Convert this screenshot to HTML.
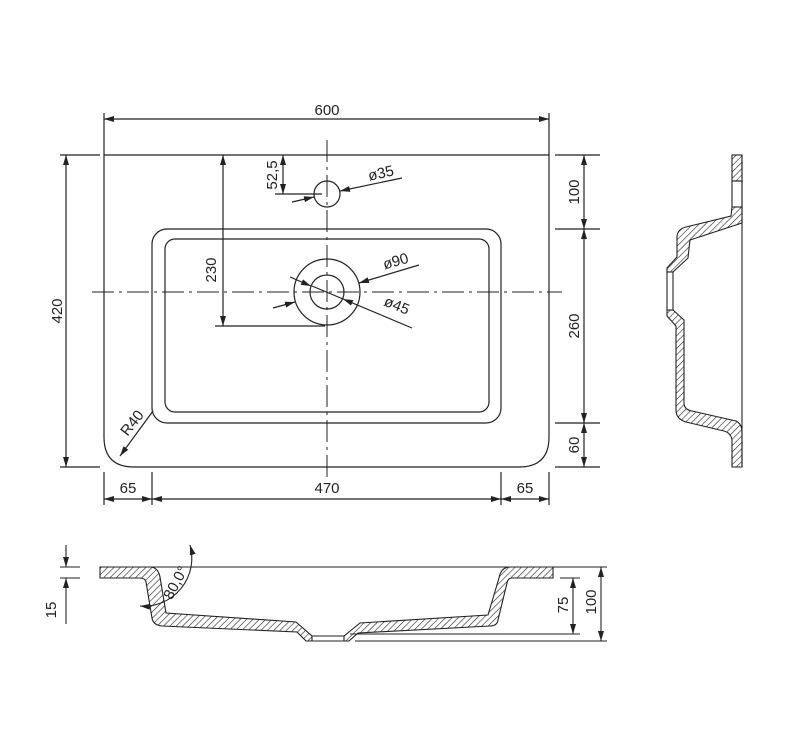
<!DOCTYPE html>
<html><head><meta charset="utf-8"><style>
html,body{margin:0;padding:0;background:#fff}
svg{display:block}
text{font-family:"Liberation Sans",sans-serif;font-size:15px;fill:#222}
</style></head><body>
<svg width="789" height="739" viewBox="0 0 789 739" xmlns="http://www.w3.org/2000/svg">
<defs>
<marker id="a" viewBox="0 0 10 6" refX="10" refY="3" markerWidth="10" markerHeight="6" orient="auto-start-reverse" markerUnits="userSpaceOnUse"><path d="M0,0 L10,3 L0,6 Z" fill="#222"/></marker>
<pattern id="h" width="4.5" height="4.5" patternUnits="userSpaceOnUse" patternTransform="rotate(45)"><line x1="0" y1="0" x2="0" y2="4.5" stroke="#222" stroke-width="1.2"/></pattern>
</defs>
<g stroke="#222" stroke-width="1.2" fill="none">
<path d="M104,155 L549,155 L549,437 Q549,467 519,467 L134,467 Q104,467 104,437 Z"/>
<rect x="152" y="229" width="349" height="194" rx="15"/>
<rect x="165" y="239" width="324" height="173" rx="10"/>
<circle cx="327" cy="194" r="13"/>
<circle cx="327" cy="292" r="33"/>
<circle cx="327" cy="292" r="17"/>
<g stroke-width="1" stroke-dasharray="22,5,3,5">
<line x1="92" y1="292" x2="562" y2="292"/>
<line x1="327" y1="140" x2="327" y2="482"/>
</g>
<line x1="104" y1="113" x2="104" y2="155"/><line x1="549" y1="113" x2="549" y2="155"/>
<line x1="104" y1="119" x2="549" y2="119" marker-start="url(#a)" marker-end="url(#a)"/>
<line x1="60" y1="155" x2="100" y2="155"/><line x1="60" y1="467" x2="100" y2="467"/>
<line x1="66" y1="155" x2="66" y2="467" marker-start="url(#a)" marker-end="url(#a)"/>
<line x1="555" y1="155" x2="600" y2="155"/><line x1="555" y1="229" x2="600" y2="229"/>
<line x1="555" y1="423" x2="600" y2="423"/><line x1="555" y1="467" x2="600" y2="467"/>
<line x1="584" y1="155" x2="584" y2="229" marker-start="url(#a)" marker-end="url(#a)"/>
<line x1="584" y1="229" x2="584" y2="423" marker-start="url(#a)" marker-end="url(#a)"/>
<line x1="584" y1="423" x2="584" y2="467" marker-start="url(#a)" marker-end="url(#a)"/>
<line x1="104" y1="472" x2="104" y2="505"/><line x1="152" y1="472" x2="152" y2="505"/>
<line x1="501" y1="472" x2="501" y2="505"/><line x1="549" y1="472" x2="549" y2="505"/>
<line x1="104" y1="499" x2="152" y2="499" marker-start="url(#a)" marker-end="url(#a)"/>
<line x1="152" y1="499" x2="501" y2="499" marker-start="url(#a)" marker-end="url(#a)"/>
<line x1="501" y1="499" x2="549" y2="499" marker-start="url(#a)" marker-end="url(#a)"/>
<line x1="275" y1="194" x2="322" y2="194"/>
<line x1="283" y1="155" x2="283" y2="194" marker-start="url(#a)" marker-end="url(#a)"/>
<line x1="215" y1="326" x2="325" y2="326"/>
<line x1="223" y1="155" x2="223" y2="326" marker-start="url(#a)" marker-end="url(#a)"/>
<line x1="292" y1="202" x2="314" y2="197" marker-end="url(#a)"/>
<line x1="402" y1="178" x2="340" y2="191" marker-end="url(#a)"/>
<line x1="273" y1="308" x2="295" y2="302" marker-end="url(#a)"/>
<line x1="419" y1="265" x2="359" y2="283" marker-end="url(#a)"/>
<line x1="290" y1="277" x2="311" y2="286" marker-end="url(#a)"/>
<line x1="412" y1="328" x2="343" y2="299" marker-end="url(#a)"/>
<line x1="312" y1="286" x2="343" y2="299"/>
<line x1="153" y1="411" x2="120" y2="456" marker-end="url(#a)"/>
</g>
<g>
<text x="327" y="115" text-anchor="middle">600</text>
<text transform="translate(62,311) rotate(-90)" text-anchor="middle">420</text>
<text transform="translate(579,192) rotate(-90)" text-anchor="middle">100</text>
<text transform="translate(579,326) rotate(-90)" text-anchor="middle">260</text>
<text transform="translate(579,445) rotate(-90)" text-anchor="middle">60</text>
<text x="128" y="493" text-anchor="middle">65</text>
<text x="327" y="493" text-anchor="middle">470</text>
<text x="525" y="493" text-anchor="middle">65</text>
<text transform="translate(277,175) rotate(-90)" text-anchor="middle">52,5</text>
<text transform="translate(216,270) rotate(-90)" text-anchor="middle">230</text>
<text transform="translate(382,178) rotate(-13)" text-anchor="middle">ø35</text>
<text transform="translate(397,266) rotate(-16)" text-anchor="middle">ø90</text>
<text transform="translate(395,310) rotate(22)" text-anchor="middle">ø45</text>
<text transform="translate(136,426) rotate(-52)" text-anchor="middle">R40</text>
</g>
<g stroke="#222" stroke-width="1.1">
<rect x="732" y="155" width="10" height="26" fill="url(#h)"/>
<rect x="732" y="181" width="10" height="26" fill="none"/>
<path fill="url(#h)" d="M732,207 L742,207 L742,223 L690,240 L688,258 L673,272 L667,272 L667,268 L677,257 L677,236 Q678,229 686,227 L731,216 Z"/>
<rect x="667" y="272" width="6" height="38" fill="none"/>
<path fill="url(#h)" d="M667,310 L673,310 L684,320 L684,404 Q685,410 692,411 L736,421 Q742,424 742,432 L742,467 L732,467 L732,440 Q731,433 724,431 L686,422 Q676,419 676,410 L676,326 L667,316 Z"/>
<line x1="742" y1="155" x2="742" y2="467"/>
</g>
<g stroke="#222" stroke-width="1.1">
<line x1="100" y1="567" x2="607" y2="567" fill="none"/>
<path fill="url(#h)" d="M100,567 L150,567 Q158,567 160,577 L166,613 L296,622 L312,636 L312,641 L306,641 L297,632 L162,626 Q153,625 152,618 L146,582 Q145,578 140,578 L100,578 Z"/>
<path fill="url(#h)" d="M344,636 L360,623 L488,615 L499,578 Q501,567 510,567 L553,567 L553,578 L512,578 Q508,578 507,583 L498,620 Q497,626 490,626 L358,633 L349,641 L344,641 Z"/>
<g fill="none">
<line x1="312" y1="636" x2="344" y2="636"/><line x1="312" y1="641" x2="344" y2="641"/>
<line x1="560" y1="578" x2="580" y2="578"/>
<line x1="350" y1="634" x2="580" y2="634"/>
<line x1="355" y1="641" x2="607" y2="641"/>
<line x1="573" y1="578" x2="573" y2="634" marker-start="url(#a)" marker-end="url(#a)"/>
<line x1="601" y1="567" x2="601" y2="641" marker-start="url(#a)" marker-end="url(#a)"/>
<line x1="60" y1="567" x2="80" y2="567"/><line x1="60" y1="578" x2="80" y2="578"/>
<line x1="66" y1="545" x2="66" y2="567" marker-end="url(#a)"/>
<line x1="66" y1="624" x2="66" y2="578" marker-end="url(#a)"/>
<path d="M190,545 A48,48 0 0 1 140,606" marker-start="url(#a)" marker-end="url(#a)"/>
</g>
</g>
<text transform="translate(56,610) rotate(-90)" text-anchor="middle">15</text>
<text transform="translate(568,605) rotate(-90)" text-anchor="middle">75</text>
<text transform="translate(596,602) rotate(-90)" text-anchor="middle">100</text>
<text transform="translate(180,585) rotate(-62)" text-anchor="middle">80,0°</text>
</svg>
</body></html>
